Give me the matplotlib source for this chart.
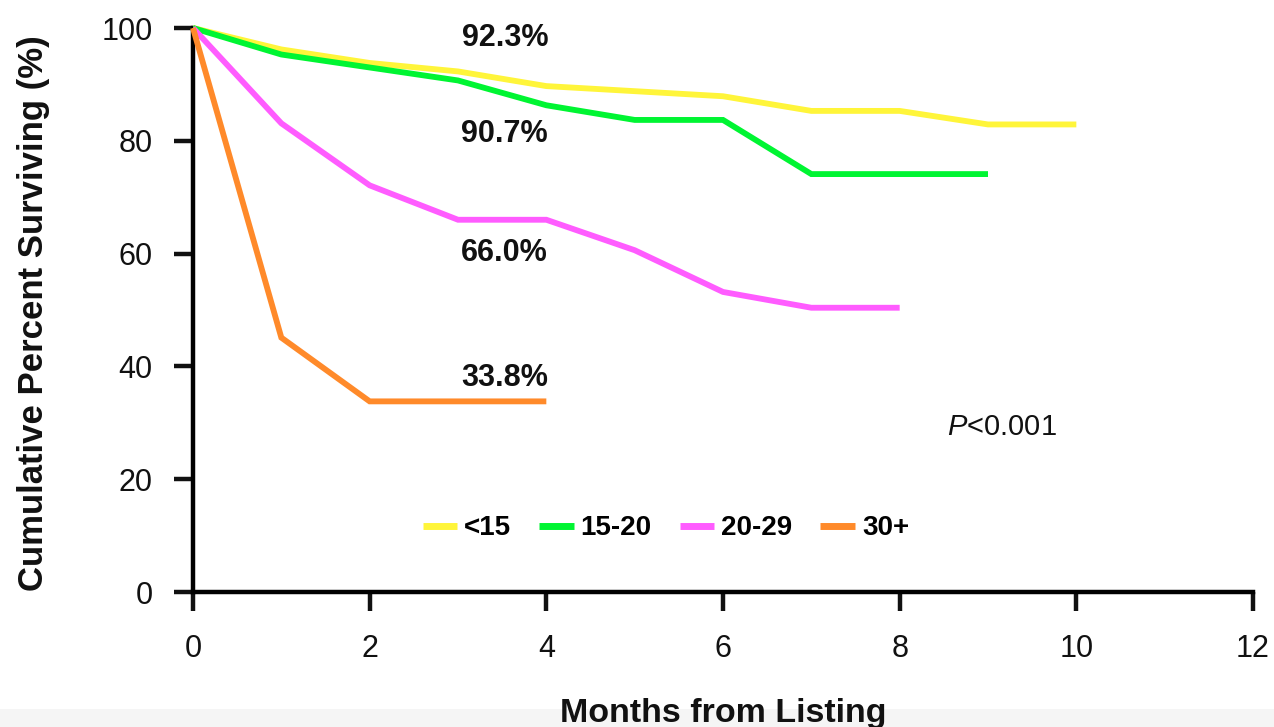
import matplotlib.pyplot as plt
from matplotlib.patches import Rectangle

plt.rcParams['font.family'] = ['Liberation Sans', 'DejaVu Sans']
plt.rcParams['mathtext.fontset'] = 'custom'
plt.rcParams['mathtext.it'] = 'Liberation Sans:italic'
plt.rcParams['mathtext.rm'] = 'Liberation Sans'

# survival by group, one value per month from listing
groups = ['<15', '15-20', '20-29', '30+']
colors = ['#fff53a', '#00f532', '#ff5cff', '#ff8a2a']
surv_lt15 = [100, 96.2, 93.8, 92.3, 89.7, 88.8, 87.9, 85.3, 85.3, 82.9, 82.9]
surv_15_20 = [100, 95.3, 93.0, 90.7, 86.3, 83.7, 83.7, 74.1, 74.1, 74.1]
surv_20_29 = [100, 83.1, 72.1, 66.0, 66.0, 60.6, 53.2, 50.4, 50.4]
surv_30p = [100, 45.1, 33.8, 33.8, 33.8]
series = [surv_lt15, surv_15_20, surv_20_29, surv_30p]

# 3-month survival labels
label_month = 3
label_y = [98.2, 81.2, 60.1, 37.9]

xticks = [0, 2, 4, 6, 8, 10, 12]
yticks = [0, 20, 40, 60, 80, 100]

fig = plt.figure(figsize=(12.74, 7.27), dpi=100)
ax = fig.add_axes([193 / 1274, 1 - 592 / 727, 1060 / 1274, 564 / 727])

for i, (name, vals, col) in enumerate(zip(groups, series, colors)):
    ax.plot(range(len(vals)), vals, color=col, lw=4.2, label=name,
            solid_joinstyle='miter', solid_capstyle='butt', clip_on=False, zorder=3 + i)

for vals, ly in zip(series, label_y):
    ax.text(4.02, ly, f'{vals[label_month]:.1f}%', ha='right', va='center',
            fontsize=22, fontweight='bold', color='#111111')

ax.text(8.54, 29.3, r'$\mathit{P}$<0.001', ha='left', va='center', fontsize=21, color='#111111')

ax.set_xlim(0, 12)
ax.set_ylim(0, 100)
ax.set_xticks(xticks)
ax.set_yticks(yticks)
for s in ['top', 'right']:
    ax.spines[s].set_visible(False)
for s in ['left', 'bottom']:
    ax.spines[s].set_linewidth(3.2)
ax.tick_params(direction='out', length=14, width=3.2, labelsize=22, colors='#111111')
ax.tick_params(axis='x', pad=16)
ax.tick_params(axis='y', pad=15)

leg = ax.legend(loc='center', bbox_to_anchor=(0.446, 0.113), ncol=4, frameon=False,
                handlelength=1.25, handletextpad=0.25, columnspacing=1.0,
                prop={'weight': 'bold', 'size': 20})
for h in leg.get_lines():
    h.set_linewidth(5)

fig.text(34 / 1274, 1 - 313 / 727, 'Cumulative Percent Surviving (%)', rotation=90,
         ha='center', va='center', fontsize=25, fontweight='bold', color='#111111')

# faint band along the bottom edge
fig.patches.append(Rectangle((0, 0), 1, 18 / 727, transform=fig.transFigure,
                             facecolor='#f5f5f5', edgecolor='none', zorder=0))
fig.text(723 / 1274, 1 - 722 / 727, 'Months from Listing', ha='center', va='baseline',
         fontsize=24.5, fontweight='bold', color='#111111')

fig.savefig('out.png', dpi=100)
